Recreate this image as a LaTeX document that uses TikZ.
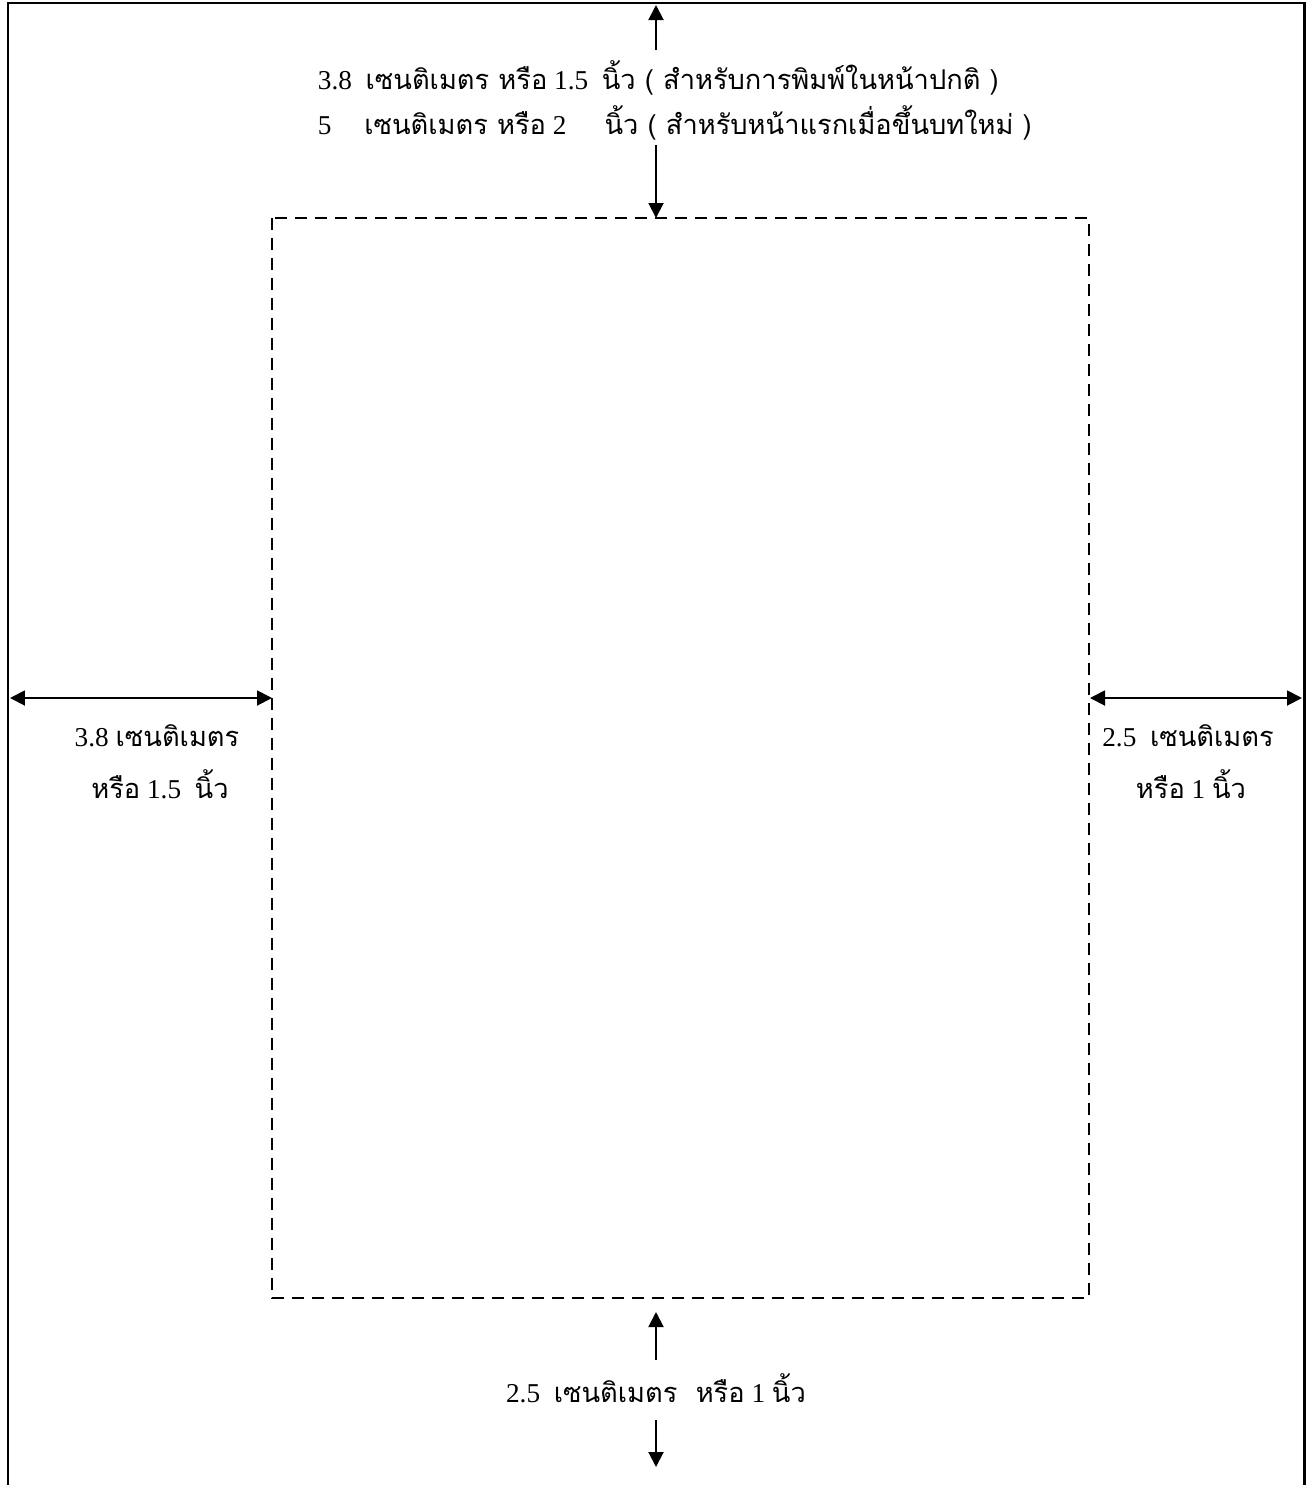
\documentclass[tikz,border=0pt]{standalone}
\usepackage{fontspec}
\setmainfont{Liberation Serif}
\newfontfamily\thaifont[Script=Thai]{Loma}
\usetikzlibrary{arrows.meta, positioning}

\begin{document}
\begin{tikzpicture}[x = 0.02cm, y = -0.02cm, % one unit is one pixel of the page
                >={Triangle[length=0.3cm, width=0.3cm]}, % arrow head style
                line width = 1.1pt
            ]

            \tikzstyle{every node}=[inner sep = 0pt, font = \fontsize{15.5}{18}\selectfont]
            \tikzstyle{pageedge}=[line width = 1.7pt]
            \tikzstyle{printarea}=[line width = 1.2pt, dash pattern = on 0.24cm off 0.16cm]

            \useasboundingbox (0,0) rectangle (1309,1485);

            % edge of the paper, open at the bottom
            \draw[pageedge] (8,1485) -- (8,3) -- (1304,3) -- (1304,1485);
            % printing area
            \draw[printarea] (272,218) rectangle (1089,1298);

            \coordinate (pagetop) at (656,5); \coordinate (areatop) at (656,218);
            \coordinate (pageleft) at (10,698); \coordinate (arealeft) at (272,698);
            \coordinate (arearight) at (1090,698); \coordinate (pageright) at (1302,698);
            \coordinate (areabottom) at (656,1312); \coordinate (pagebottom) at (656,1467);
            \coordinate (top1) at (656,50); \coordinate (top2) at (656,145);
            \coordinate (bot1) at (656,1360); \coordinate (bot2) at (656,1420);

            \node (topA) [anchor=base west] at (317,89) {3.8\ \ {\thaifont เซนติเมตร หรือ} 1.5\ \ {\thaifont นิ้ว ( สำหรับการพิมพ์ในหน้าปกติ )}};
            \node (topB) [anchor=base west] at (317,134) {5\hspace{1.2em}{\thaifont เซนติเมตร หรือ} 2\hspace{1.4em}{\thaifont นิ้ว ( สำหรับหน้าแรกเมื่อขึ้นบทใหม่ )}};

            \node (leftA) [anchor=base] at (157,746) {3.8 {\thaifont เซนติเมตร}};
            \node (leftB) [anchor=base] at (160,798) {{\thaifont หรือ} 1.5\ \ {\thaifont นิ้ว}};
            \node (rightA) [anchor=base] at (1188,746) {2.5\ \ {\thaifont เซนติเมตร}};
            \node (rightB) [anchor=base] at (1191,798) {{\thaifont หรือ} 1 {\thaifont นิ้ว}};
            \node (bottomtext) [anchor=base] at (656,1402) {2.5\ \ {\thaifont เซนติเมตร\ \ หรือ} 1 {\thaifont นิ้ว}};

            \draw[->] (top1) -- (pagetop); \draw[->] (top2) -- (areatop);
            \draw[<->] (pageleft) -- (arealeft); \draw[<->] (arearight) -- (pageright);
            \draw[->] (bot1) -- (areabottom); \draw[->] (bot2) -- (pagebottom);

        \end{tikzpicture}
\end{document}
